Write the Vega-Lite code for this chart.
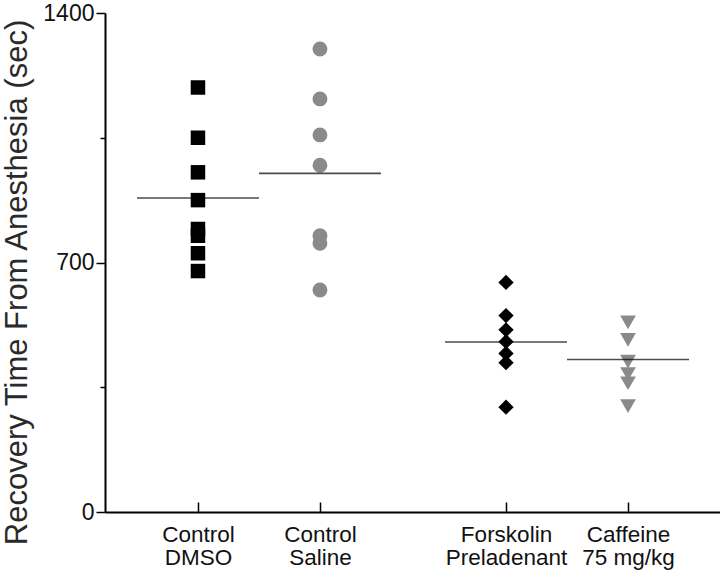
{
  "$schema": "https://vega.github.io/schema/vega-lite/v6.json",
  "autosize": {"type": "none"},
  "width": 615,
  "height": 499,
  "padding": {"left": 105, "top": 13, "right": 0, "bottom": 60},
  "background": "white",
  "config": {
    "view": {"stroke": null},
    "font": "Liberation Sans",
    "axis": {"grid": false, "domainColor": "black", "tickColor": "black", "labelColor": "#111111", "titleColor": "#2a2a2a", "labelFont": "Liberation Sans", "titleFont": "Liberation Sans"}
  },
  "datasets": {
    "points": [
      {"group": "Control DMSO", "group_index": 1, "recovery_sec": 1191},
      {"group": "Control DMSO", "group_index": 1, "recovery_sec": 1050},
      {"group": "Control DMSO", "group_index": 1, "recovery_sec": 953},
      {"group": "Control DMSO", "group_index": 1, "recovery_sec": 875},
      {"group": "Control DMSO", "group_index": 1, "recovery_sec": 794},
      {"group": "Control DMSO", "group_index": 1, "recovery_sec": 775},
      {"group": "Control DMSO", "group_index": 1, "recovery_sec": 726},
      {"group": "Control DMSO", "group_index": 1, "recovery_sec": 676},
      {"group": "Control Saline", "group_index": 2, "recovery_sec": 1299},
      {"group": "Control Saline", "group_index": 2, "recovery_sec": 1159},
      {"group": "Control Saline", "group_index": 2, "recovery_sec": 1058},
      {"group": "Control Saline", "group_index": 2, "recovery_sec": 973},
      {"group": "Control Saline", "group_index": 2, "recovery_sec": 775},
      {"group": "Control Saline", "group_index": 2, "recovery_sec": 754},
      {"group": "Control Saline", "group_index": 2, "recovery_sec": 623},
      {"group": "Forskolin Preladenant", "group_index": 3.525, "recovery_sec": 644},
      {"group": "Forskolin Preladenant", "group_index": 3.525, "recovery_sec": 551},
      {"group": "Forskolin Preladenant", "group_index": 3.525, "recovery_sec": 511},
      {"group": "Forskolin Preladenant", "group_index": 3.525, "recovery_sec": 478},
      {"group": "Forskolin Preladenant", "group_index": 3.525, "recovery_sec": 445},
      {"group": "Forskolin Preladenant", "group_index": 3.525, "recovery_sec": 419},
      {"group": "Forskolin Preladenant", "group_index": 3.525, "recovery_sec": 294},
      {"group": "Caffeine 75 mg/kg", "group_index": 4.525, "recovery_sec": 532},
      {"group": "Caffeine 75 mg/kg", "group_index": 4.525, "recovery_sec": 483},
      {"group": "Caffeine 75 mg/kg", "group_index": 4.525, "recovery_sec": 422},
      {"group": "Caffeine 75 mg/kg", "group_index": 4.525, "recovery_sec": 387},
      {"group": "Caffeine 75 mg/kg", "group_index": 4.525, "recovery_sec": 361},
      {"group": "Caffeine 75 mg/kg", "group_index": 4.525, "recovery_sec": 297}
    ],
    "means": [
      {"group": "Control DMSO", "group_index": 1, "mean_sec": 881},
      {"group": "Control Saline", "group_index": 2, "mean_sec": 950},
      {"group": "Forskolin Preladenant", "group_index": 3.525, "mean_sec": 477},
      {"group": "Caffeine 75 mg/kg", "group_index": 4.525, "mean_sec": 428}
    ]
  },
  "layer": [
    {
      "data": {"name": "points"},
      "mark": {"type": "point", "filled": true, "opacity": 1, "strokeWidth": 0},
      "encoding": {
        "x": {
          "field": "group_index", "type": "quantitative",
          "scale": {"domain": [0.238, 5.279], "nice": false, "zero": false},
          "axis": {
            "title": null,
            "values": [1, 2, 3.525, 4.525],
            "labelExpr": "datum.value == 1 ? ['Control', 'DMSO'] : datum.value == 2 ? ['Control', 'Saline'] : datum.value < 4 ? ['Forskolin', 'Preladenant'] : ['Caffeine', '75 mg/kg']",
            "labelFontSize": 22.5,
            "labelLineHeight": 23,
            "labelPadding": 21,
            "tickSize": -10,
            "tickWidth": 1.5,
            "domainWidth": 2,
            "labelFlush": false,
            "labelOverlap": false
          }
        },
        "y": {
          "field": "recovery_sec", "type": "quantitative",
          "scale": {"domain": [0, 1400], "nice": false},
          "axis": {
            "title": "Recovery Time From Anesthesia (sec)",
            "titleFontSize": 31,
            "titleFontWeight": "normal",
            "titleX": -72,
            "titleY": 269,
            "titleAngle": -90,
            "titleAlign": "center",
            "titleBaseline": "bottom",
            "values": [0, 350, 700, 1050, 1400],
            "format": "d",
            "labelExpr": "datum.value % 700 == 0 ? datum.label : ''",
            "labelFontSize": 23,
            "labelPadding": 2,
            "tickSize": {"condition": {"test": "datum.value % 700 == 0", "value": 9}, "value": 5},
            "tickWidth": 1.5,
            "domainWidth": 2,
            "labelFlush": false,
            "labelOverlap": false
          }
        },
        "shape": {
          "field": "group", "type": "nominal", "legend": null,
          "scale": {"domain": ["Control DMSO", "Control Saline", "Forskolin Preladenant", "Caffeine 75 mg/kg"], "range": ["square", "circle", "diamond", "triangle-down"]}
        },
        "color": {
          "field": "group", "type": "nominal", "legend": null,
          "scale": {"domain": ["Control DMSO", "Control Saline", "Forskolin Preladenant", "Caffeine 75 mg/kg"], "range": ["#000000", "#8a8a8a", "#000000", "#8a8a8a"]}
        },
        "size": {
          "field": "group", "type": "nominal", "legend": null,
          "scale": {"domain": ["Control DMSO", "Control Saline", "Forskolin Preladenant", "Caffeine 75 mg/kg"], "range": [210, 246, 400, 360]}
        }
      }
    },
    {
      "data": {"name": "means"},
      "mark": {"type": "tick", "orient": "horizontal", "size": 122, "thickness": 1.6, "color": "black"},
      "encoding": {
        "x": {"field": "group_index", "type": "quantitative"},
        "y": {"field": "mean_sec", "type": "quantitative"}
      }
    }
  ]
}
